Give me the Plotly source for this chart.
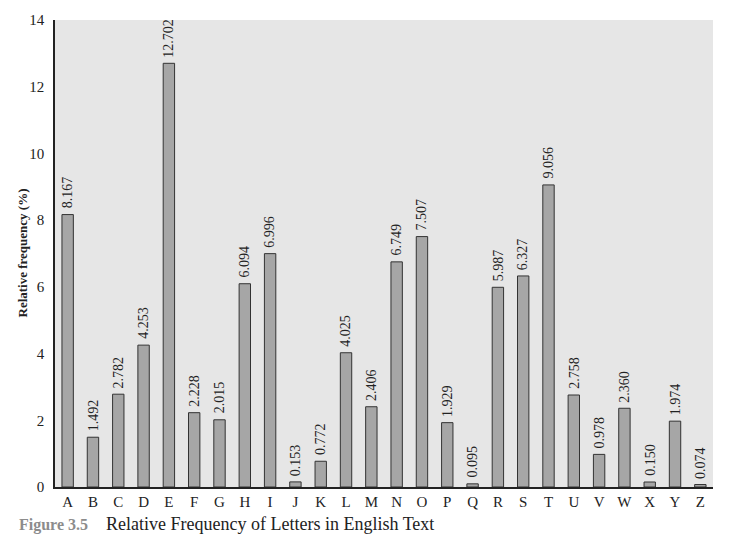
import plotly.graph_objects as go

letters = list("ABCDEFGHIJKLMNOPQRSTUVWXYZ")
freqs = [8.167, 1.492, 2.782, 4.253, 12.702, 2.228, 2.015, 6.094, 6.996, 0.153,
         0.772, 4.025, 2.406, 6.749, 7.507, 1.929, 0.095, 5.987, 6.327, 9.056,
         2.758, 0.978, 2.360, 0.150, 1.974, 0.074]
labels = [f"{v:.3f}" for v in freqs]
y_ticks = [0, 2, 4, 6, 8, 10, 12, 14]

FONT = "Liberation Serif, Times New Roman, serif"

fig = go.Figure(go.Bar(
    x=letters, y=freqs,
    marker=dict(color="#a6a6a6", line=dict(color="#333", width=1)),
    width=0.45, cliponaxis=False,
))

annots = [dict(x=l, y=v, xref="x", yref="y", text=t, showarrow=False,
               textangle=-90, xanchor="center", yanchor="bottom", yshift=4,
               font=dict(family=FONT, size=14, color="#222"))
          for l, v, t in zip(letters, freqs, labels)]

W, H, L, R, T, B = 730, 540, 55, 17, 18, 53
PW, PH = W - L - R, H - T - B
annots.append(dict(
    x=(17 - L) / PW, y=(H - 524 - B) / PH, xref="paper", yref="paper",
    showarrow=False, xanchor="left", yanchor="middle",
    text="<b><span style='color:#8c8c8c;font-size:16px'>Figure 3.5</span></b>&nbsp;&nbsp;&nbsp;&nbsp;Relative Frequency of Letters in English Text",
    font=dict(family=FONT, size=18, color="#222"),
))
annots.append(dict(
    x=(22 - L) / PW, y=0.5, xref="paper", yref="paper",
    showarrow=False, xanchor="center", yanchor="middle", textangle=-90,
    text="<b>Relative frequency (%)</b>",
    font=dict(family=FONT, size=13, color="#222"),
))

fig.update_layout(
    width=W, height=H,
    margin=dict(l=L, r=R, t=T, b=B),
    paper_bgcolor="white", plot_bgcolor="#e6e6e6",
    font=dict(family=FONT, size=15, color="#222"),
    showlegend=False,
    xaxis=dict(range=[-0.5, 25.5], showgrid=False, showline=True, linecolor="#222",
               linewidth=1.5, ticks="", tickfont=dict(size=15), zeroline=False),
    yaxis=dict(range=[0, 14], tickvals=y_ticks, showgrid=False, showline=True,
               linecolor="#222", linewidth=1.5, ticks="", tickfont=dict(size=15),
               ticklabelstandoff=6, zeroline=False),
    annotations=annots,
)

fig.write_html("out.html")
